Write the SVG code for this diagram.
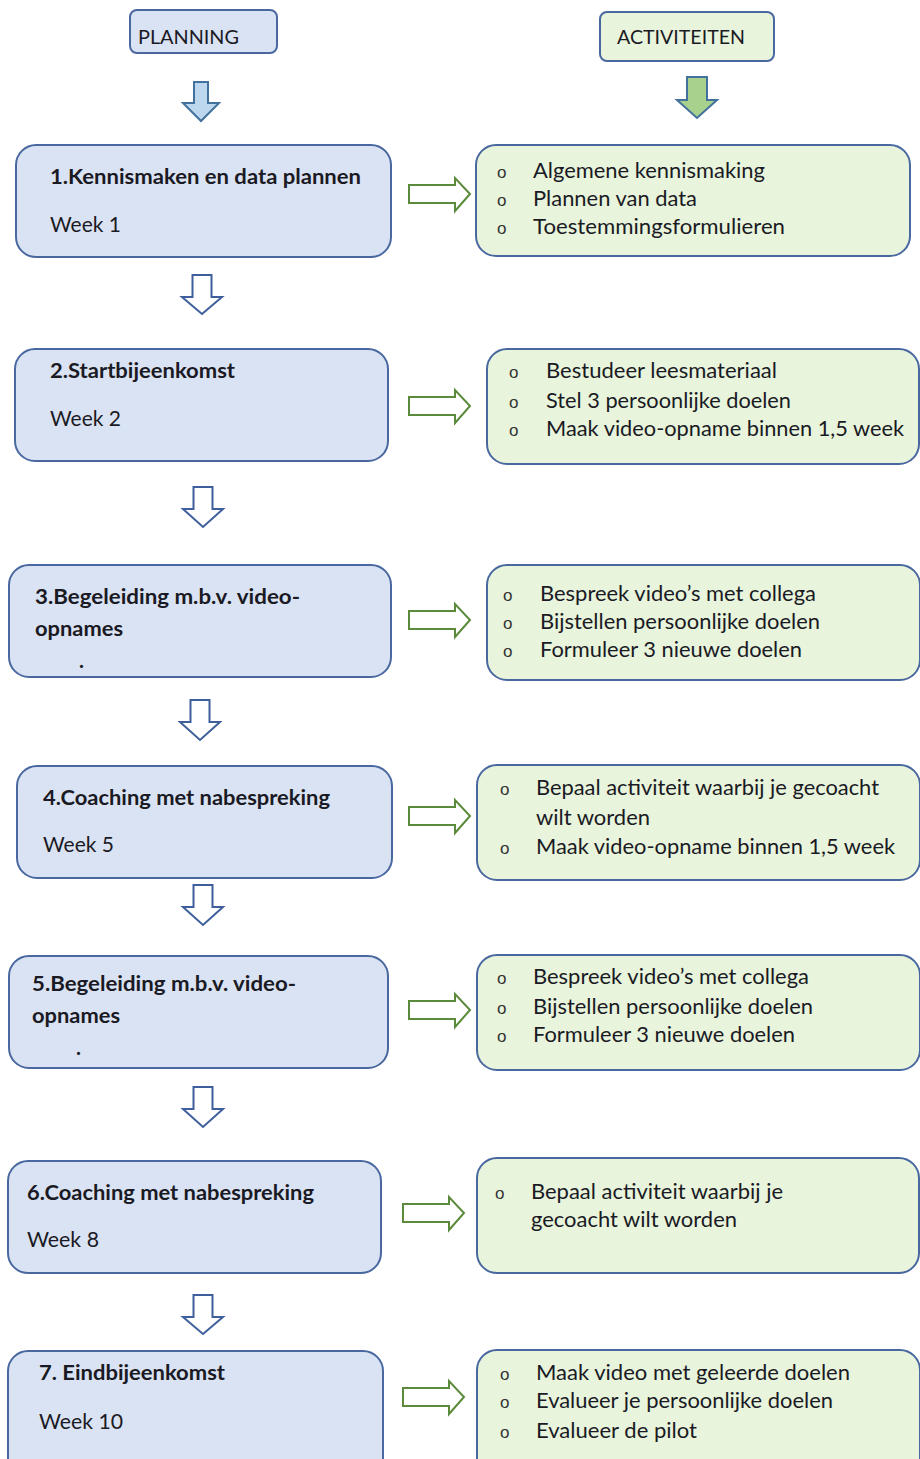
<svg xmlns="http://www.w3.org/2000/svg" width="920" height="1459" viewBox="0 0 920 1459">
<style>
.bg{fill:#ffffff}
.pbox{fill:#dae3f3;stroke:#4a68a0;stroke-width:2}
.abox{fill:#e8f4dc;stroke:#4a68a0;stroke-width:2}
.t{font-family:Lato,"Liberation Sans",sans-serif;font-size:21px;fill:#1a1a24}
.b{font-weight:bold}
.h{font-family:Lato,"Liberation Sans",sans-serif;font-size:19px;fill:#1a1a24}
.bul{font-family:"Liberation Sans",sans-serif;font-size:17px;fill:#333}
.darr{fill:#ffffff;stroke:#3f5f9c;stroke-width:2;stroke-linejoin:miter}
.rarr{fill:#ffffff;stroke:#5a8a3a;stroke-width:2;stroke-linejoin:miter}
</style>
<rect class="bg" x="0" y="0" width="920" height="1459"/>

<g id="header-planning">
<rect x="130" y="10" width="147" height="43" rx="7" fill="#dae3f3" stroke="#4a68a0" stroke-width="2"/>
<text class="h" x="138" y="44" textLength="101" lengthAdjust="spacingAndGlyphs">PLANNING</text>
</g>
<g id="header-activiteiten">
<rect x="600" y="12" width="174" height="49" rx="7" fill="#e8f4dc" stroke="#4a68a0" stroke-width="2"/>
<text class="h" x="617" y="44" textLength="128" lengthAdjust="spacingAndGlyphs">ACTIVITEITEN</text>
</g>

<g id="connectors">
<path d="M194,82 H208 V103 H219 L201,121 L183,103 H194 Z" fill="#bdd7ee" stroke="#41719c" stroke-width="2"/>
<path d="M687,77 H707 V100 H717 L697,118 L677,100 H687 Z" fill="#a9d18e" stroke="#41719c" stroke-width="2"/>
<path class="darr" d="M192.5,275 H211.5 V297 H222 L202,314 L182,297 H192.5 Z"/>
<path class="darr" d="M193.5,487 H212.5 V509 H223 L203,527 L183,509 H193.5 Z"/>
<path class="darr" d="M190.5,700 H209.5 V722 H220 L200,740 L180,722 H190.5 Z"/>
<path class="darr" d="M193.5,885 H212.5 V907 H223 L203,925 L183,907 H193.5 Z"/>
<path class="darr" d="M193.5,1087 H212.5 V1109 H223 L203,1127 L183,1109 H193.5 Z"/>
<path class="darr" d="M193.5,1295 H212.5 V1317 H223 L203,1334 L183,1317 H193.5 Z"/>
<path class="rarr" d="M409,185 H455 V178 L470,194 L455,211 V203 H409 Z"/>
<path class="rarr" d="M409,397 H455 V390 L470,406 L455,423 V415 H409 Z"/>
<path class="rarr" d="M409,611 H455 V604 L470,620 L455,637 V629 H409 Z"/>
<path class="rarr" d="M409,807 H455 V800 L470,816 L455,833 V825 H409 Z"/>
<path class="rarr" d="M409,1001 H455 V994 L470,1010 L455,1027 V1019 H409 Z"/>
<path class="rarr" d="M403,1204 H449 V1197 L464,1213 L449,1230 V1222 H403 Z"/>
<path class="rarr" d="M403,1388 H449 V1381 L464,1397 L449,1414 V1406 H403 Z"/>
</g>

<g id="step1">
<rect class="pbox" x="16" y="145" width="375" height="112" rx="20"/>
<text class="t b" x="50" y="184" textLength="311" lengthAdjust="spacingAndGlyphs">1.Kennismaken en data plannen</text>
<text class="t" x="50" y="232" textLength="71" lengthAdjust="spacingAndGlyphs">Week 1</text>
</g>
<g id="act1">
<rect class="abox" x="476" y="145" width="434" height="111" rx="20"/>
<text class="bul" x="497" y="178">o</text>
<text class="bul" x="497" y="206">o</text>
<text class="bul" x="497" y="234">o</text>
<text class="t" x="533" y="178" textLength="232" lengthAdjust="spacingAndGlyphs">Algemene kennismaking</text>
<text class="t" x="533" y="206" textLength="164" lengthAdjust="spacingAndGlyphs">Plannen van data</text>
<text class="t" x="533" y="234" textLength="252" lengthAdjust="spacingAndGlyphs">Toestemmingsformulieren</text>
</g>

<g id="step2">
<rect class="pbox" x="15" y="349" width="373" height="112" rx="20"/>
<text class="t b" x="50" y="378" textLength="185" lengthAdjust="spacingAndGlyphs">2.Startbijeenkomst</text>
<text class="t" x="50" y="426" textLength="71" lengthAdjust="spacingAndGlyphs">Week 2</text>
</g>
<g id="act2">
<rect class="abox" x="487" y="349" width="432" height="115" rx="20"/>
<text class="bul" x="509" y="378">o</text>
<text class="bul" x="509" y="408">o</text>
<text class="bul" x="509" y="436">o</text>
<text class="t" x="546" y="378" textLength="231" lengthAdjust="spacingAndGlyphs">Bestudeer leesmateriaal</text>
<text class="t" x="546" y="408" textLength="245" lengthAdjust="spacingAndGlyphs">Stel 3 persoonlijke doelen</text>
<text class="t" x="546" y="436" textLength="358" lengthAdjust="spacingAndGlyphs">Maak video-opname binnen 1,5 week</text>
</g>

<g id="step3">
<rect class="pbox" x="9" y="565" width="382" height="112" rx="20"/>
<text class="t b" x="35" y="604" textLength="265" lengthAdjust="spacingAndGlyphs">3.Begeleiding m.b.v. video-</text>
<text class="t b" x="35" y="636" textLength="88" lengthAdjust="spacingAndGlyphs">opnames</text>
<text class="t b" x="79" y="668">.</text>
</g>
<g id="act3">
<rect class="abox" x="487" y="565" width="433" height="115" rx="20"/>
<text class="bul" x="503" y="601">o</text>
<text class="bul" x="503" y="629">o</text>
<text class="bul" x="503" y="657">o</text>
<text class="t" x="540" y="601" textLength="276" lengthAdjust="spacingAndGlyphs">Bespreek video’s met collega</text>
<text class="t" x="540" y="629" textLength="280" lengthAdjust="spacingAndGlyphs">Bijstellen persoonlijke doelen</text>
<text class="t" x="540" y="657" textLength="262" lengthAdjust="spacingAndGlyphs">Formuleer 3 nieuwe doelen</text>
</g>

<g id="step4">
<rect class="pbox" x="17" y="766" width="375" height="112" rx="20"/>
<text class="t b" x="43" y="805" textLength="287" lengthAdjust="spacingAndGlyphs">4.Coaching met nabespreking</text>
<text class="t" x="43" y="852" textLength="71" lengthAdjust="spacingAndGlyphs">Week 5</text>
</g>
<g id="act4">
<rect class="abox" x="477" y="765" width="443" height="115" rx="20"/>
<text class="bul" x="500" y="795">o</text>
<text class="bul" x="500" y="854">o</text>
<text class="t" x="536" y="795" textLength="343" lengthAdjust="spacingAndGlyphs">Bepaal activiteit waarbij je gecoacht</text>
<text class="t" x="536" y="825" textLength="114" lengthAdjust="spacingAndGlyphs">wilt worden</text>
<text class="t" x="536" y="854" textLength="359" lengthAdjust="spacingAndGlyphs">Maak video-opname binnen 1,5 week</text>
</g>

<g id="step5">
<rect class="pbox" x="9" y="956" width="379" height="112" rx="20"/>
<text class="t b" x="32" y="991" textLength="264" lengthAdjust="spacingAndGlyphs">5.Begeleiding m.b.v. video-</text>
<text class="t b" x="32" y="1023" textLength="88" lengthAdjust="spacingAndGlyphs">opnames</text>
<text class="t b" x="76" y="1055">.</text>
</g>
<g id="act5">
<rect class="abox" x="477" y="955" width="443" height="115" rx="20"/>
<text class="bul" x="497" y="984">o</text>
<text class="bul" x="497" y="1014">o</text>
<text class="bul" x="497" y="1042">o</text>
<text class="t" x="533" y="984" textLength="276" lengthAdjust="spacingAndGlyphs">Bespreek video’s met collega</text>
<text class="t" x="533" y="1014" textLength="280" lengthAdjust="spacingAndGlyphs">Bijstellen persoonlijke doelen</text>
<text class="t" x="533" y="1042" textLength="262" lengthAdjust="spacingAndGlyphs">Formuleer 3 nieuwe doelen</text>
</g>

<g id="step6">
<rect class="pbox" x="8" y="1161" width="373" height="112" rx="20"/>
<text class="t b" x="27" y="1200" textLength="287" lengthAdjust="spacingAndGlyphs">6.Coaching met nabespreking</text>
<text class="t" x="27" y="1247" textLength="72" lengthAdjust="spacingAndGlyphs">Week 8</text>
</g>
<g id="act6">
<rect class="abox" x="477" y="1158" width="442" height="115" rx="20"/>
<text class="bul" x="495" y="1199">o</text>
<text class="t" x="531" y="1199" textLength="252" lengthAdjust="spacingAndGlyphs">Bepaal activiteit waarbij je</text>
<text class="t" x="531" y="1227" textLength="206" lengthAdjust="spacingAndGlyphs">gecoacht wilt worden</text>
</g>

<g id="step7">
<rect class="pbox" x="8" y="1351" width="375" height="130" rx="20"/>
<text class="t b" x="39" y="1380" textLength="186" lengthAdjust="spacingAndGlyphs">7. Eindbijeenkomst</text>
<text class="t" x="39" y="1429" textLength="84" lengthAdjust="spacingAndGlyphs">Week 10</text>
</g>
<g id="act7">
<rect class="abox" x="477" y="1350" width="443" height="130" rx="20"/>
<text class="bul" x="500" y="1380">o</text>
<text class="bul" x="500" y="1408">o</text>
<text class="bul" x="500" y="1438">o</text>
<text class="t" x="536" y="1380" textLength="314" lengthAdjust="spacingAndGlyphs">Maak video met geleerde doelen</text>
<text class="t" x="536" y="1408" textLength="297" lengthAdjust="spacingAndGlyphs">Evalueer je persoonlijke doelen</text>
<text class="t" x="536" y="1438" textLength="161" lengthAdjust="spacingAndGlyphs">Evalueer de pilot</text>
</g>
</svg>
